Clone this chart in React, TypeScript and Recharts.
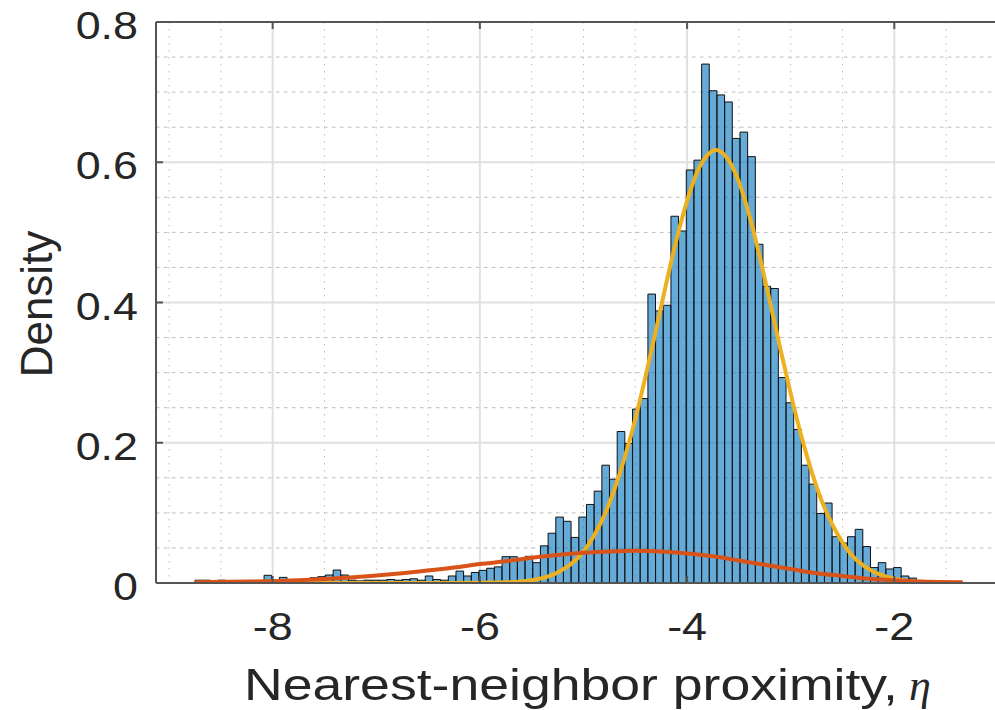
import React from "react";
import {
  ComposedChart,
  Bar,
  Line,
  XAxis,
  YAxis,
  CartesianGrid,
  ReferenceLine,
  Customized,
} from "recharts";

// ---- Histogram (100 bins) ----
const binStart = -8.75;
const binWidth = 0.0741;
const binDensity = [
  0.004, 0.004, 0.003, 0.004, 0, 0, 0, 0, 0, 0.011,
  0.002, 0.008, 0.002, 0.003, 0.003, 0.0075, 0.009, 0.0114, 0.0185, 0.0114,
  0.004, 0.003, 0.004, 0.004, 0.004, 0.005, 0.004, 0.005, 0.006, 0.004,
  0.01, 0.005, 0.004, 0.01, 0.017, 0.01, 0.015, 0.018, 0.021, 0.023,
  0.0375, 0.0375, 0.034, 0.038, 0.029, 0.053, 0.071, 0.094, 0.088, 0.065,
  0.094, 0.112, 0.131, 0.168, 0.148, 0.216, 0.199, 0.248, 0.263, 0.412,
  0.388, 0.396, 0.523, 0.502, 0.589, 0.603, 0.74, 0.702, 0.696, 0.686,
  0.634, 0.643, 0.608, 0.483, 0.423, 0.42, 0.293, 0.257, 0.219, 0.168,
  0.141, 0.099, 0.114, 0.066, 0.057, 0.066, 0.0765, 0.052, 0.022, 0.029,
  0.02, 0.022, 0.01, 0.007, 0.003, 0.002, 0.002, 0.001, 0.002, 0.001,
];

// ---- Main (yellow) component curve ----
const yellowX = [
  -8.75, -6.5, -6.0, -5.75, -5.5, -5.25, -5.0, -4.9, -4.8, -4.7, -4.6, -4.5,
  -4.4, -4.3, -4.2, -4.1, -4.0, -3.9, -3.8, -3.72, -3.6, -3.5, -3.4, -3.3,
  -3.2, -3.1, -3.0, -2.9, -2.8, -2.7, -2.6, -2.5, -2.4, -2.3, -2.2, -2.0,
  -1.8, -1.6, -1.34,
];
const yellowY = [
  0, 0, 0.0005, 0.001, 0.004, 0.015, 0.045, 0.067, 0.096, 0.134, 0.18, 0.234,
  0.295, 0.361, 0.428, 0.491, 0.545, 0.587, 0.611, 0.6175, 0.603, 0.572, 0.525,
  0.466, 0.401, 0.334, 0.27, 0.211, 0.16, 0.117, 0.084, 0.058, 0.038, 0.025,
  0.016, 0.006, 0.002, 0.0005, 0,
];

// ---- Broad (red) component curve ----
const redX = [
  -8.75, -8.25, -7.75, -7.25, -6.75, -6.25, -6.0, -5.75, -5.5, -5.25, -5.0,
  -4.75, -4.5, -4.25, -4.0, -3.75, -3.5, -3.25, -3.0, -2.75, -2.5, -2.25, -2.0,
  -1.75, -1.34,
];
const redY = [
  0.001, 0.002, 0.004, 0.008, 0.014, 0.022, 0.027, 0.031, 0.036, 0.04, 0.043,
  0.045, 0.046, 0.045, 0.042, 0.038, 0.032, 0.026, 0.02, 0.014, 0.01, 0.006,
  0.004, 0.002, 0.001,
];

// ---- Axes ----
const xTicks = [-8, -6, -4, -2];
const yTicks = [0, 0.2, 0.4, 0.6, 0.8];
const xMinorGrid = [-9, -8.5, -7.5, -7, -6.5, -5.5, -5, -4.5, -3.5, -3, -2.5, -1.5];
const yMinorGrid = [
  0.05, 0.1, 0.15, 0.25, 0.3, 0.35, 0.45, 0.5, 0.55, 0.65, 0.7, 0.75,
];
const yMajorGrid = [0.2, 0.4, 0.6];
const XMIN = -9.126;
const XMAX = -1.028;
const xTitle = "Nearest-neighbor proximity,";
const xTitleSymbol = "η";
const yTitle = "Density";

const binData = binDensity.map((d, i) => ({
  x: binStart + (i + 0.5) * binWidth,
  density: d,
}));
const yellowData = yellowX.map((x, i) => ({ x, y: yellowY[i] }));
const redData = redX.map((x, i) => ({ x, y: redY[i] }));

const W = 995;
const H = 710;
const TOP = 22;
const BOTTOM = 583;
const AXIS_COLOR = "#555555";
const TEXT_COLOR = "#262626";
const FONT = "'Liberation Sans', Arial, Helvetica, sans-serif";

const XTick = (props: any) => {
  const { x, payload } = props;
  return (
    <g>
      <line x1={x} x2={x} y1={BOTTOM} y2={BOTTOM - 7} stroke={AXIS_COLOR} strokeWidth={2} />
      <line x1={x} x2={x} y1={TOP} y2={TOP + 7} stroke={AXIS_COLOR} strokeWidth={2} />
      <text
        transform={`translate(${x},${BOTTOM + 57}) scale(1.15,1)`}
        textAnchor="middle"
        fontSize={39}
        fontFamily={FONT}
        fill={TEXT_COLOR}
      >
        {String(payload.value)}
      </text>
    </g>
  );
};

const YTick = (props: any) => {
  const { x, y, payload } = props;
  return (
    <g>
      <line x1={x} x2={x + 7} y1={y} y2={y} stroke={AXIS_COLOR} strokeWidth={2} />
      <text
        transform={`translate(${x - 18},${y + 17}) scale(1.15,1)`}
        textAnchor="end"
        fontSize={39}
        fontFamily={FONT}
        fill={TEXT_COLOR}
      >
        {String(payload.value)}
      </text>
    </g>
  );
};

const Titles = () => (
  <g>
    <text
      x={52}
      y={304}
      transform="rotate(-90 52 304)"
      textAnchor="middle"
      fontSize={44}
      fontFamily={FONT}
      fill={TEXT_COLOR}
    >
      {yTitle}
    </text>
    <text
      x={244}
      y={700}
      fontSize={44}
      fontFamily={FONT}
      fill={TEXT_COLOR}
      textLength={654}
      lengthAdjust="spacingAndGlyphs"
    >
      {xTitle}
    </text>
    <text
      x={909}
      y={700}
      fontSize={44}
      fontStyle="italic"
      fontFamily="'Liberation Serif', 'DejaVu Serif', serif"
      fill={TEXT_COLOR}
    >
      {xTitleSymbol}
    </text>
  </g>
);

export default function App() {
  return (
    <div style={{ position: "absolute", left: 0, top: 0, width: W, height: H, background: "#fff" }}>
      <ComposedChart
        width={W}
        height={H}
        data={binData}
        margin={{ top: TOP, right: 0, bottom: 0, left: 0 }}
        barCategoryGap={0}
        barGap={0}
      >
        <CartesianGrid
          xAxisId="main"
          horizontal={false}
          verticalValues={xMinorGrid}
          stroke="#bcbcbc"
          strokeDasharray="1.5 5.5"
          strokeWidth={1}
        />
        <CartesianGrid
          xAxisId="main"
          vertical={false}
          horizontalValues={yMinorGrid}
          stroke="#bcbcbc"
          strokeDasharray="3.5 4.5"
          strokeWidth={1}
        />
        <CartesianGrid
          xAxisId="main"
          horizontalValues={yMajorGrid}
          verticalValues={xTicks}
          stroke="#e0e0e0"
          strokeWidth={2}
        />
        <XAxis
          xAxisId="bins"
          type="number"
          dataKey="x"
          domain={[XMIN, XMAX]}
          allowDataOverflow
          orientation="top"
          height={0}
          hide
        />
        <XAxis
          xAxisId="main"
          type="number"
          dataKey="x"
          domain={[XMIN, XMAX]}
          ticks={xTicks}
          interval={0}
          allowDataOverflow
          height={H - BOTTOM}
          tickSize={0}
          tickMargin={0}
          tickLine={false}
          axisLine={{ stroke: AXIS_COLOR, strokeWidth: 2 }}
          tick={<XTick />}
        />
        <YAxis
          type="number"
          domain={[0, 0.8]}
          ticks={yTicks}
          interval={0}
          allowDataOverflow
          width={156}
          tickSize={0}
          tickMargin={0}
          tickLine={false}
          axisLine={{ stroke: AXIS_COLOR, strokeWidth: 2 }}
          tick={<YTick />}
        />
        <ReferenceLine xAxisId="main" y={0.8} stroke={AXIS_COLOR} strokeWidth={2} />
        <Bar
          xAxisId="bins"
          dataKey="density"
          fill="#0072BD"
          fillOpacity={0.6}
          stroke="#111111"
          strokeWidth={1}
          barSize={7.6}
          isAnimationActive={false}
        />
        <Line
          xAxisId="main"
          data={yellowData}
          dataKey="y"
          type="monotone"
          stroke="#EDB120"
          strokeWidth={4}
          dot={false}
          activeDot={false}
          isAnimationActive={false}
        />
        <Line
          xAxisId="main"
          data={redData}
          dataKey="y"
          type="monotone"
          stroke="#D95319"
          strokeWidth={4}
          dot={false}
          activeDot={false}
          isAnimationActive={false}
        />
        <Customized component={Titles} />
      </ComposedChart>
    </div>
  );
}
